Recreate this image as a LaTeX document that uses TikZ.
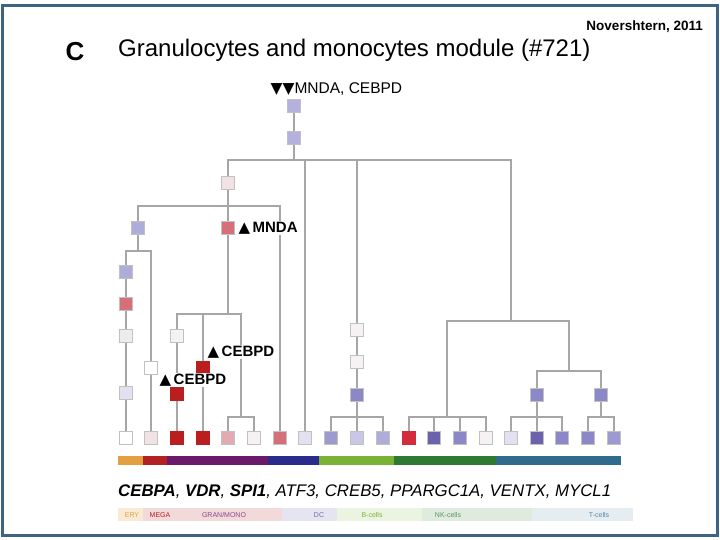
\documentclass[tikz,border=0pt]{standalone}
\usepackage{fontspec}
\setmainfont{Liberation Sans}
\newfontfamily\symfont{DejaVu Sans}
\usepackage{xcolor}
\usepackage{tikz}
\usetikzlibrary{positioning}

% square fills
\definecolor{lav}{HTML}{B4B2DC}
\definecolor{lavmid}{HTML}{AEACD8}
\definecolor{lavpale}{HTML}{E2E1EF}
\definecolor{lavlight}{HTML}{C9C7E5}
\definecolor{purp}{HTML}{8C88C8}
\definecolor{purpdark}{HTML}{6A62AA}
\definecolor{pinkpale}{HTML}{F1E2E6}
\definecolor{pinklight}{HTML}{E2AAB2}
\definecolor{rose}{HTML}{D4707A}
\definecolor{darkred}{HTML}{BA1E1E}
\definecolor{brightred}{HTML}{D42C3A}
\definecolor{whitish}{HTML}{F6F2F4}
\definecolor{greyish}{HTML}{EDEBEE}
% lines, frame, bars
\definecolor{lineg}{HTML}{A6A6A6}
\definecolor{frameblue}{HTML}{3E6481}
\definecolor{barery}{HTML}{E2A040}
\definecolor{barmega}{HTML}{B22222}
\definecolor{bargran}{HTML}{6B1A6B}
\definecolor{bardc}{HTML}{2B2B8C}
\definecolor{barb}{HTML}{7AB236}
\definecolor{barnk}{HTML}{2F7A32}
\definecolor{bart}{HTML}{2F6B8C}

\newcommand{\up}{{\symfont ▲}\,}
\newcommand{\down}{{\symfont ▼}}

\begin{document}
\begin{tikzpicture}[
  x=1pt, y=-1pt,
  sq/.style={
    rectangle, minimum size=13pt, inner sep=0pt, draw=lineg!70, line width=0.8pt
  },
  edge/.style={draw=lineg, line width=1.6pt},
  lbl/.style={inner sep=0.5pt, font=\fontsize{15.5}{17}\selectfont},
  lblb/.style={inner sep=0.5pt, fill=white, font=\fontsize{15}{17}\selectfont\bfseries},
  legtxt/.style={inner sep=0pt, font=\fontsize{7}{8}\selectfont}
]
\useasboundingbox (0,0) rectangle (720,540);

% ==================== FRAME & TITLE ====================
\draw[frameblue, line width=3pt] (2,6) rectangle (717,535);
\node[inner sep=0pt, anchor=east, font=\fontsize{13.5}{15}\selectfont\bfseries] (cite) at (703,27) {Novershtern, 2011};
\node[inner sep=0pt, font=\fontsize{26}{28}\selectfont\bfseries] (panel) at (75,52) {C};
\node[inner sep=0pt, anchor=west, font=\fontsize{24}{26}\selectfont] (title) at (118,50) {Granulocytes and monocytes module (\#721)};

% ==================== INTERNAL NODES ====================
% Root
\node[sq, fill=lav] (root) at (294,106) {};
\node[sq, fill=lav] (root2) at (294,138) {};
\node[lbl, anchor=west] (rootlab) at (270,89) {\down\down MNDA, CEBPD};

% Left branch
\node[sq, fill=pinkpale] (gm) at (228,183) {};
\node[sq, fill=lavmid] (ery) at (138,228) {};
\node[sq, fill=rose] (mnda) at (228,228) {};

\node[sq, fill=lavmid] (b1) at (126,272) {};
\node[sq, fill=rose] (b2) at (126,304) {};
\node[sq, fill=greyish] (b3) at (126,336) {};
\node[sq, fill=lavpale] (b4) at (126,393) {};
\node[sq, fill=white] (b5) at (151,368) {};

\node[sq, fill=whitish] (m1) at (177,336) {};
\node[sq, fill=darkred, draw=darkred] (m2) at (177,394) {};
\node[sq, fill=darkred, draw=darkred] (m3) at (203,368) {};

% Middle branch
\node[sq, fill=whitish] (c1) at (357,330) {};
\node[sq, fill=whitish] (c2) at (357,362) {};
\node[sq, fill=purp] (c3) at (357,395) {};

% Right branch
\node[sq, fill=purp] (t1) at (537,395) {};
\node[sq, fill=purp] (t2) at (601,395) {};

% ==================== LEAVES ====================
\node[sq, fill=white] (l1) at (126,438) {};
\node[sq, fill=pinkpale] (l2) at (151,438) {};
\node[sq, fill=darkred, draw=darkred] (l3) at (177,438) {};
\node[sq, fill=darkred, draw=darkred] (l4) at (203,438) {};
\node[sq, fill=pinklight] (l5) at (228,438) {};
\node[sq, fill=whitish] (l6) at (254,438) {};
\node[sq, fill=rose] (l7) at (280,438) {};
\node[sq, fill=lavpale] (l8) at (305,438) {};
\node[sq, fill=purp!85] (l9) at (331,438) {};
\node[sq, fill=lavlight] (l10) at (357,438) {};
\node[sq, fill=lavmid] (l11) at (383,438) {};
\node[sq, fill=brightred, draw=brightred] (l12) at (409,438) {};
\node[sq, fill=purpdark] (l13) at (434,438) {};
\node[sq, fill=purp] (l14) at (460,438) {};
\node[sq, fill=whitish] (l15) at (486,438) {};
\node[sq, fill=lavpale] (l16) at (511,438) {};
\node[sq, fill=purpdark] (l17) at (537,438) {};
\node[sq, fill=purp] (l18) at (562,438) {};
\node[sq, fill=purp] (l19) at (588,438) {};
\node[sq, fill=purp!85] (l20) at (614,438) {};

% ==================== CONNECTIONS ====================
% Root split
\coordinate (s0) at (294,160);
\coordinate (s1) at (511,321);
\draw[edge] (root) -- (root2);
\draw[edge] (root2) -- (s0) -| (gm.north);
\draw[edge] (s0) -| (l8.north);
\draw[edge] (s0) -| (c1.north);
\draw[edge] (s0) -| (s1);

% Left branch
\coordinate (s7) at (228,206);
\draw[edge] (gm) -- (s7) -| (ery.north);
\draw[edge] (s7) -- (mnda);
\draw[edge] (s7) -| (l7.north);

\coordinate (s8) at (138,251);
\draw[edge] (ery) -- (s8) -| (b1.north);
\draw[edge] (s8) -| (b5.north);
\draw[edge] (b1) -- (b2);
\draw[edge] (b2) -- (b3);
\draw[edge] (b3) -- (b4);
\draw[edge] (b4) -- (l1);
\draw[edge] (b5) -- (l2);

\coordinate (s9) at (228,314);
\coordinate (s10) at (241,417);
\draw[edge] (mnda) -- (s9) -| (m1.north);
\draw[edge] (s9) -| (m3.north);
\draw[edge] (s9) -| (s10);
\draw[edge] (m1) -- (m2);
\draw[edge] (m2) -- (l3);
\draw[edge] (m3) -- (l4);
\draw[edge] (s10) -| (l5.north);
\draw[edge] (s10) -| (l6.north);

% Middle branch
\coordinate (s6) at (357,417);
\draw[edge] (c1) -- (c2);
\draw[edge] (c2) -- (c3);
\draw[edge] (c3) -- (s6) -| (l9.north);
\draw[edge] (s6) -- (l10);
\draw[edge] (s6) -| (l11.north);

% Right branch
\coordinate (s2) at (447,417);
\coordinate (s3) at (569,371);
\draw[edge] (s1) -| (s2);
\draw[edge] (s1) -| (s3);
\draw[edge] (s2) -| (l12.north);
\draw[edge] (s2) -| (l13.north);
\draw[edge] (s2) -| (l14.north);
\draw[edge] (s2) -| (l15.north);
\draw[edge] (s3) -| (t1.north);
\draw[edge] (s3) -| (t2.north);

\coordinate (s4) at (537,417);
\draw[edge] (t1) -- (s4) -| (l16.north);
\draw[edge] (s4) -- (l17);
\draw[edge] (s4) -| (l18.north);
\coordinate (s5) at (601,417);
\draw[edge] (t2) -- (s5) -| (l19.north);
\draw[edge] (s5) -| (l20.north);

% Marker labels (over the lines)
\node[lblb, right=3pt of mnda] (mndalab) {\up MNDA};
\node[lblb, anchor=west] (cebpd1) at (207,352) {\up CEBPD};
\node[lblb, anchor=west] (cebpd2) at (159,380) {\up CEBPD};

% ==================== CELL-TYPE BAR ====================
\fill[barery] (118,456) rectangle (143,465);
\fill[barmega] (143,456) rectangle (167,465);
\fill[bargran] (167,456) rectangle (268,465);
\fill[bardc] (268,456) rectangle (319,465);
\fill[barb] (319,456) rectangle (394,465);
\fill[barnk] (394,456) rectangle (496,465);
\fill[bart] (496,456) rectangle (621,465);

% Genes
\node[inner sep=0pt, anchor=west, font=\fontsize{16.8}{18}\selectfont\itshape] (genes) at (118,492)
  {\textbf{CEBPA}, \textbf{VDR}, \textbf{SPI1}, ATF3, CREB5, PPARGC1A, VENTX, MYCL1};

% Legend strip
\fill[barery!22] (118,508) rectangle (143,521);
\fill[barmega!17] (143,508) rectangle (282,521);
\fill[bardc!12] (282,508) rectangle (337,521);
\fill[barb!15] (337,508) rectangle (422,521);
\fill[barnk!15] (422,508) rectangle (532,521);
\fill[bart!12] (532,508) rectangle (633,521);
\node[legtxt, text=barery] (lery) at (132,515) {ERY};
\node[legtxt, text=barmega] (lmega) at (160,515) {MEGA};
\node[legtxt, text=bargran!80] (lgran) at (224,515) {GRAN/MONO};
\node[legtxt, text=bardc!70] (ldc) at (319,515) {DC};
\node[legtxt, text=barb] (lb) at (372,515) {B-cells};
\node[legtxt, text=barnk!80] (lnk) at (448,515) {NK-cells};
\node[legtxt, text=bart!80] (lt) at (599,515) {T-cells};
\end{tikzpicture}
\end{document}
